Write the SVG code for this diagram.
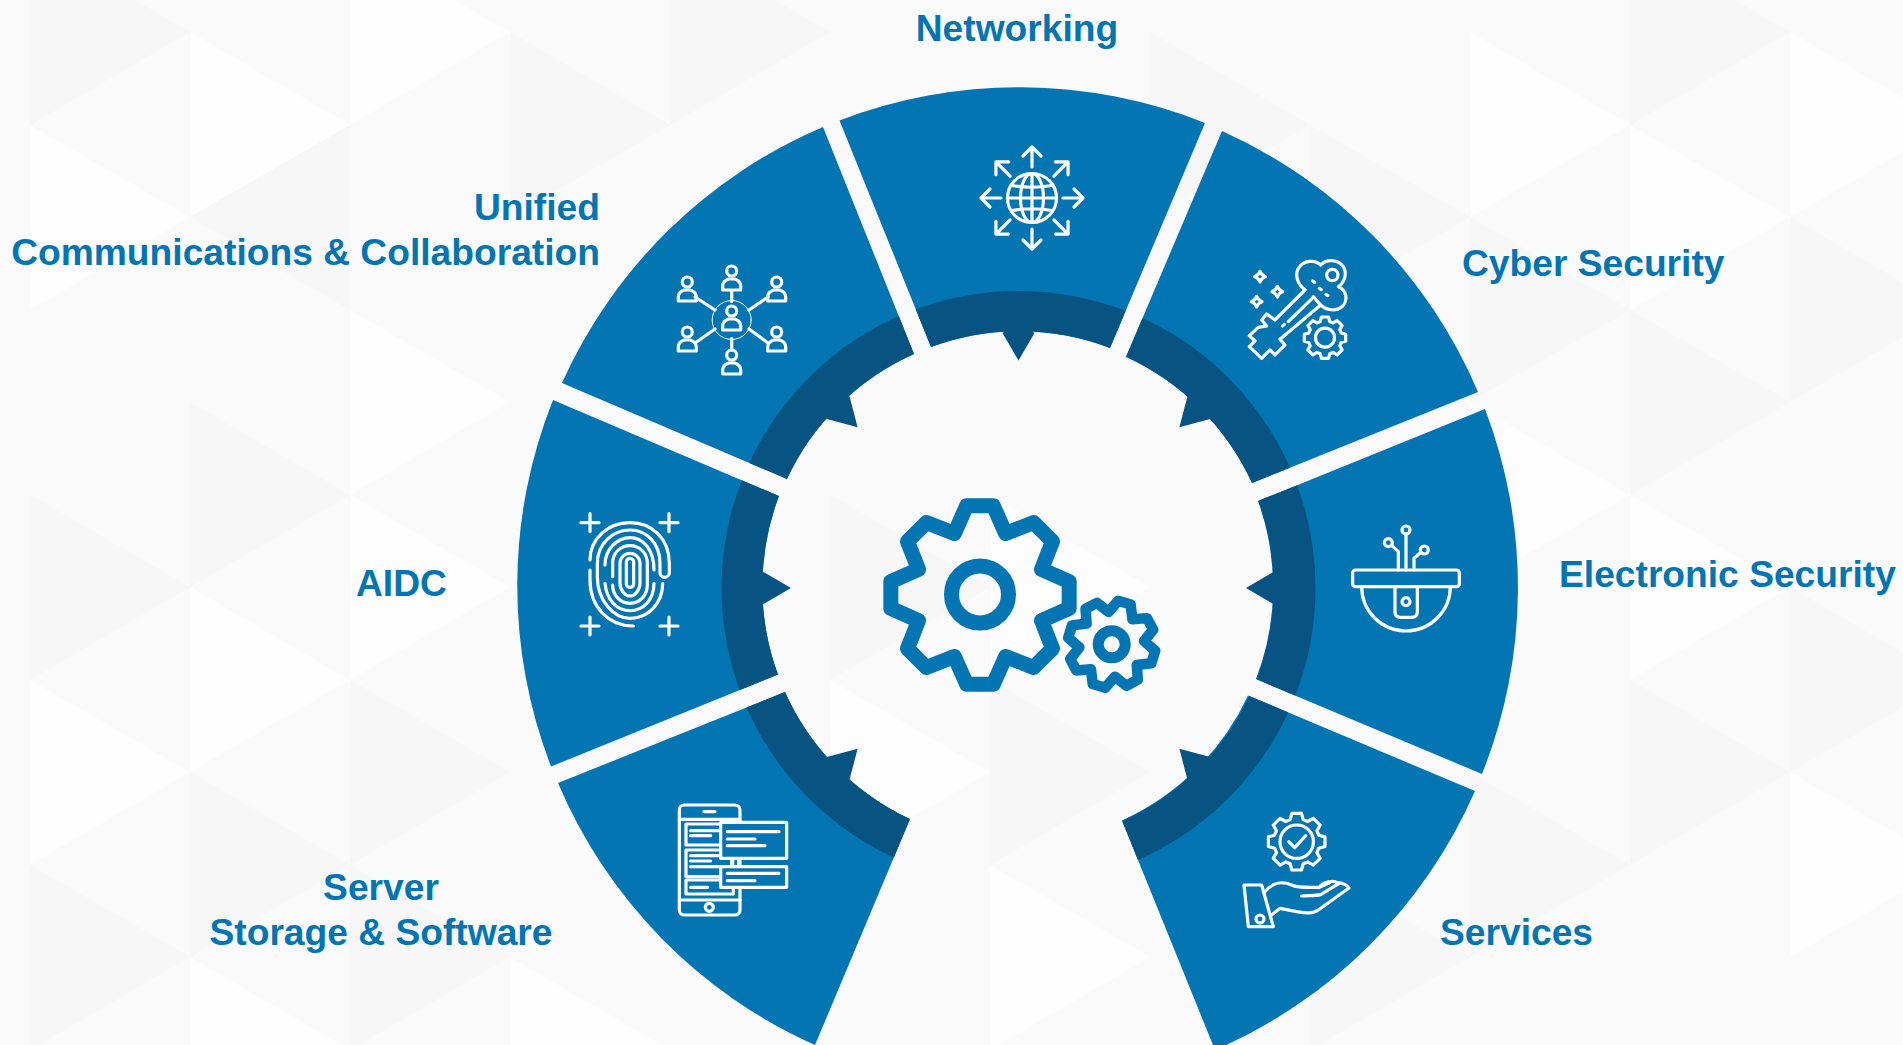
<svg xmlns="http://www.w3.org/2000/svg" width="1903" height="1045" viewBox="0 0 1903 1045">
<style>
.g{fill:#f7f7f7}.w{fill:#fdfdfd}
.seg{fill:#0375b2}.ring{fill:none;stroke:#075482;stroke-width:42}.arr{fill:#075482}
.ic{fill:none;stroke:#fff;stroke-width:3.2;stroke-linecap:round;stroke-linejoin:round}
.ic *,#plus,#star,#gearw,#gear{vector-effect:non-scaling-stroke}
.big{fill:none;stroke:#0375b2;stroke-linejoin:round}
.t{font-family:"Liberation Sans",Arial,sans-serif;font-weight:700;font-size:37.2px;fill:#0375b2}
.boxf{fill:#0375b2}
</style>
<defs>
<path id="s-net" d="M839.5,120.5A501,501 0 0 1 1205,123L1110,348A255,255 0 0 0 931,347Z"/>
<path id="s-cyb" d="M1222,131A501,501 0 0 1 1478,392L1252,483A255,255 0 0 0 1126,357Z"/>
<path id="s-ele" d="M1485,409A501,501 0 0 1 1482,774L1256,679A255,255 0 0 0 1258,501Z"/>
<path id="s-svc" d="M1475,791A501,501 0 0 1 1215,1050L1122,820.5A255,255 0 0 0 1248,695.5Z"/>
<path id="s-srv" d="M815,1045A501,501 0 0 1 558,783L785,692A255,255 0 0 0 910,819Z"/>
<path id="s-aid" d="M551,766.5A501,501 0 0 1 553,400L779,496A255,255 0 0 0 778,674.6Z"/>
<path id="s-uni" d="M562,383A501,501 0 0 1 823,127L914,354A255,255 0 0 0 787,479Z"/>
<clipPath id="c-net"><use href="#s-net"/></clipPath>
<clipPath id="c-cyb"><use href="#s-cyb"/></clipPath>
<clipPath id="c-ele"><use href="#s-ele"/></clipPath>
<clipPath id="c-svc"><use href="#s-svc"/></clipPath>
<clipPath id="c-srv"><use href="#s-srv"/></clipPath>
<clipPath id="c-aid"><use href="#s-aid"/></clipPath>
<clipPath id="c-uni"><use href="#s-uni"/></clipPath>
<polygon id="tip" points="1002.5,333 1018.5,360.5 1034.5,333 1018.5,322"/>
<polygon id="gear" points="-13,-87 13,-87 25,-60 52.3,-70.7 70.7,-52.3 60,-25 87,-13 87,13 60,25 70.7,52.3 52.3,70.7 25,60 13,87 -13,87 -25,60 -52.3,70.7 -70.7,52.3 -60,25 -87,13 -87,-13 -60,-25 -70.7,-52.3 -52.3,-70.7 -25,-60"/>
<polygon id="gearw" points="-23,-78 -17,-100 17,-100 23,-78 38.9,-71.4 58.7,-82.7 82.7,-58.7 71.4,-38.9 78,-23 100,-17 100,17 78,23 71.4,38.9 82.7,58.7 58.7,82.7 38.9,71.4 23,78 17,100 -17,100 -23,78 -38.9,71.4 -58.7,82.7 -82.7,58.7 -71.4,38.9 -78,23 -100,17 -100,-17 -78,-23 -71.4,-38.9 -82.7,-58.7 -58.7,-82.7 -38.9,-71.4"/>
<path id="out" d="M0,-31V-51M-9,-42L0,-51L9,-42"/>
<g id="person"><circle cx="0" cy="-8" r="5"/><path d="M-9,11H9V7C9,3 6,1 3,0H-3C-6,1 -9,3 -9,7Z"/></g>
<path id="star" d="M0,-16Q4,-4 16,0Q4,4 0,16Q-4,4 -16,0Q-4,-4 0,-16Z"/>
<path id="plus" d="M-27,0H27M0,-27V27"/>
</defs>
<rect width="1903" height="1045" fill="#fafafa"/>
<g id="background">
<polygon class="g" points="30,-60 30,125 190,32"/><polygon class="g" points="350,125 350,310 190,217"/>
<polygon class="g" points="190,402 190,587 350,495"/><polygon class="g" points="30,495 30,680 190,587"/>
<polygon class="g" points="190,772 190,957 350,865"/><polygon class="g" points="350,680 350,865 510,772"/>
<polygon class="g" points="510,32 510,217 670,125"/><polygon class="g" points="670,-60 670,125 830,32"/>
<polygon class="g" points="1150,32 1150,217 1310,125"/><polygon class="g" points="1310,125 1310,310 1470,217"/>
<polygon class="g" points="1470,217 1470,402 1630,310"/><polygon class="g" points="1630,310 1630,495 1790,402"/>
<polygon class="g" points="1790,217 1790,402 1950,310"/><polygon class="g" points="1630,680 1630,865 1790,772"/>
<polygon class="g" points="1470,772 1470,957 1630,865"/><polygon class="g" points="1790,587 1790,772 1950,680"/>
<polygon class="g" points="1630,-60 1630,125 1790,32"/><polygon class="g" points="350,865 350,1050 510,957"/>
<polygon class="g" points="30,865 30,1050 190,957"/><polygon class="g" points="1310,865 1310,1050 1470,957"/>
<polygon class="g" points="990,680 990,865 1150,772"/><polygon class="g" points="830,495 830,680 990,587"/>
<polygon class="w" points="190,32 190,217 350,125"/><polygon class="w" points="350,-60 350,125 510,32"/>
<polygon class="w" points="30,125 30,310 190,217"/><polygon class="w" points="350,310 350,495 510,402"/>
<polygon class="w" points="30,680 30,865 190,772"/><polygon class="w" points="190,587 190,772 350,680"/>
<polygon class="w" points="350,495 350,680 510,587"/><polygon class="w" points="190,957 190,1142 350,1050"/>
<polygon class="w" points="510,957 510,1142 670,1050"/><polygon class="w" points="1470,32 1470,217 1630,125"/>
<polygon class="w" points="1630,125 1630,310 1790,217"/><polygon class="w" points="1790,32 1790,217 1950,125"/>
<polygon class="w" points="1470,402 1470,587 1630,495"/><polygon class="w" points="1630,495 1630,680 1790,587"/>
<polygon class="w" points="1790,772 1790,957 1950,865"/><polygon class="w" points="990,495 990,680 1150,587"/>
<polygon class="w" points="830,680 830,865 990,772"/><polygon class="w" points="990,865 990,1050 1150,957"/>
</g>

<g id="node-networking">
<use href="#s-net" class="seg"/><circle class="ring" cx="1018.5" cy="588" r="276" clip-path="url(#c-net)"/><use href="#tip" class="arr"/>
<g class="ic" transform="translate(1032,198)">
<circle r="24.5"/><ellipse rx="11.5" ry="24.5"/><path d="M0,-24.5V24.5M-24.5,0H24.5M-20,-12.5Q0,-9 20,-12.5M-20,12.5Q0,9 20,12.5"/>
<use href="#out"/><use href="#out" transform="rotate(45)"/><use href="#out" transform="rotate(90)"/><use href="#out" transform="rotate(135)"/><use href="#out" transform="rotate(180)"/><use href="#out" transform="rotate(225)"/><use href="#out" transform="rotate(270)"/><use href="#out" transform="rotate(315)"/>
</g>
<text class="t" x="1017" y="41" text-anchor="middle">Networking</text>
</g>

<g id="node-cyber-security">
<use href="#s-cyb" class="seg"/><circle class="ring" cx="1018.5" cy="588" r="276" clip-path="url(#c-cyb)"/><use href="#tip" class="arr" transform="rotate(45 1018.5 588)"/>
<g class="ic" transform="translate(1230,240) scale(.3333)">
<path d="M225,150C200,130 195,105 205,85C220,60 255,58 272,75C290,55 325,58 340,80C352,100 345,125 325,140C350,150 355,180 338,198C320,215 290,212 272,195L250,170"/>
<path d="M225,150L135,240L110,222L95,240L110,258L85,262L58,287L75,303L58,320L95,355L120,330L135,345L165,315L150,298L272,195M175,245L250,172M158,258L163,253"/>
<path d="M248,123L254,127M268,145L274,149M288,163L294,167"/>
<circle cx="307" cy="105" r="17"/>
<use href="#star" x="90" y="110"/><use href="#star" x="142" y="155"/><use href="#star" x="80" y="185"/>
</g>
<g class="ic" transform="translate(1325,337.7)"><use href="#gearw" transform="scale(.207)"/><circle r="9.5"/></g>
<text class="t" x="1462" y="276">Cyber Security</text>
</g>

<g id="node-electronic-security">
<use href="#s-ele" class="seg"/><circle class="ring" cx="1018.5" cy="588" r="276" clip-path="url(#c-ele)"/><use href="#tip" class="arr" transform="rotate(90 1018.5 588)"/>
<g class="ic" transform="translate(1340,520) scale(.3333)">
<rect x="38" y="150" width="320" height="50" rx="8"/>
<path d="M65,200A133,133 0 0 0 331,200M165,200V275Q165,292 182,292H215Q232,292 232,275V200"/>
<circle cx="198" cy="245" r="12"/><circle cx="198" cy="30" r="12"/><circle cx="145" cy="68" r="12"/><circle cx="253" cy="90" r="12"/>
<path d="M198,150V42M175,150V95L155,76M222,150V115L243,97"/>
</g>
<text class="t" x="1559" y="587">Electronic Security</text>
</g>

<g id="node-services">
<use href="#s-svc" class="seg"/><circle class="ring" cx="1018.5" cy="588" r="276" clip-path="url(#c-svc)"/><use href="#tip" class="arr" transform="rotate(135 1018.5 588)"/>
<g class="ic" transform="translate(1296.7,841.7)"><use href="#gearw" transform="scale(.283)"/><circle r="16.7"/><path d="M-8,0L-2,6L9,-6"/></g>
<g class="ic" transform="translate(1230,800) scale(.3333)">
<path d="M42,255H95L130,380H55Z"/><circle cx="90" cy="357" r="12"/>
<path d="M102,278C125,250 150,240 185,255C205,265 240,262 268,262C280,245 310,240 322,248C340,248 355,258 357,264L265,330C250,342 230,340 200,335L150,325L125,345M215,288C235,286 255,288 272,284L325,252M268,262L300,248"/>
</g>
<text class="t" x="1440" y="945">Services</text>
</g>

<g id="node-server-storage-software">
<use href="#s-srv" class="seg"/><circle class="ring" cx="1018.5" cy="588" r="276" clip-path="url(#c-srv)"/><use href="#tip" class="arr" transform="rotate(-135 1018.5 588)"/>
<g class="ic" transform="translate(660,790) scale(.3333)">
<rect x="58" y="45" width="182" height="330" rx="15"/>
<path d="M58,88H240M58,330H240M132,65H165"/><circle cx="148" cy="352" r="12"/>
<rect x="78" y="102" width="110" height="63"/><rect x="78" y="180" width="137" height="80"/><rect x="78" y="270" width="142" height="42"/>
<path d="M92,122H180M92,137H152M92,197H180M92,213H152M92,230H180M92,292H143M218,205V230M236,205V230"/>
<rect x="182" y="97" width="198" height="108" class="boxf"/><rect x="182" y="230" width="198" height="62" class="boxf"/>
<path d="M202,125H357M202,147H285M202,167H315M202,250H357M202,272H285"/>
</g>
<text class="t" x="381" y="900" text-anchor="middle">Server</text>
<text class="t" x="381" y="945" text-anchor="middle">Storage &amp; Software</text>
</g>

<g id="node-aidc">
<use href="#s-aid" class="seg"/><circle class="ring" cx="1018.5" cy="588" r="276" clip-path="url(#c-aid)"/><use href="#tip" class="arr" transform="rotate(-90 1018.5 588)"/>
<g class="ic" transform="translate(570,500) scale(.3333)">
<use href="#plus" x="60" y="68"/><use href="#plus" x="297" y="68"/><use href="#plus" x="60" y="378"/><use href="#plus" x="297" y="378"/>
<path d="M60,180C60,115 115,68 180,68C245,68 298,115 298,190V218A14,14 0 0 1 270,218V190C270,130 230,90 180,90C130,90 82,130 82,190V230C82,300 130,355 180,355C235,355 278,310 278,250"/>
<path d="M60,210V240C60,320 115,378 190,378"/>
<path d="M105,195C105,150 140,113 180,113C220,113 252,150 252,210M105,250C110,300 140,332 180,332C220,332 252,300 252,250"/>
<path d="M128,230V190C128,160 150,137 180,137C210,137 232,160 232,190V255C232,285 210,310 180,310C150,310 128,285 128,255"/>
<path d="M150,190C150,172 165,160 180,160C195,160 210,172 210,190V250C210,270 195,288 180,288C165,288 150,270 150,250Z"/>
<rect x="169" y="175" width="22" height="87" rx="11"/>
</g>
<text class="t" x="356" y="596">AIDC</text>
</g>

<g id="node-unified-communications">
<use href="#s-uni" class="seg"/><circle class="ring" cx="1018.5" cy="588" r="276" clip-path="url(#c-uni)"/><use href="#tip" class="arr" transform="rotate(-45 1018.5 588)"/>
<g class="ic">
<use href="#person" x="731.7" y="279"/><use href="#person" x="687.3" y="290"/><use href="#person" x="776.7" y="290"/>
<use href="#person" x="687.3" y="340"/><use href="#person" x="776.7" y="340"/><use href="#person" x="731.7" y="363"/><use href="#person" x="731.7" y="319"/>
<circle cx="731.7" cy="320" r="19.5" style="stroke-width:1"/>
<path d="M731.7,291V301.5M731.7,338.5V350M695,297L715,310M768,297L749,310M695,343L715,329M768,343L749,329"/>
</g>
<text class="t" x="600" y="220" text-anchor="end">Unified</text>
<text class="t" x="600" y="265" text-anchor="end">Communications &amp; Collaboration</text>
</g>

<g id="node-center-gears">
<use href="#gear" class="big" style="stroke-width:15" transform="translate(980,595) scale(1.025)"/>
<circle class="big" cx="980" cy="594.5" r="28.5" stroke-width="15"/>
<use href="#gear" class="big" style="stroke-width:10.5" transform="translate(1111.7,644.3) rotate(17) scale(.5)"/>
<circle class="big" cx="1111.7" cy="644.3" r="13.5" stroke-width="11"/>
</g>
</svg>
